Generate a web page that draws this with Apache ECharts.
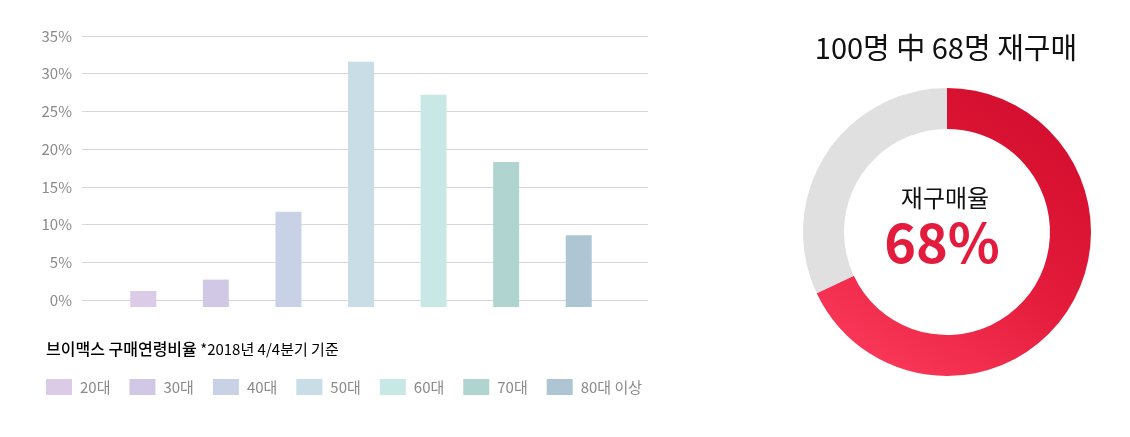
<!DOCTYPE html>
<html>
<head>
<meta charset="utf-8">
<script src="https://cdn.jsdelivr.net/npm/echarts@6/dist/echarts.min.js"></script>
<style>
  html, body { margin: 0; padding: 0; background: #fff; }
  #chart { width: 1130px; height: 437px; }
</style>
</head>
<body>
<div id="chart"></div>
<script>
// 연령대별 구매 비율 (%)
var ageGroups = ['20대', '30대', '40대', '50대', '60대', '70대', '80대 이상'];
var ageRatio = [1.2, 2.7, 11.7, 31.6, 27.2, 18.3, 8.6];
var ageColors = ['#dccbe6', '#d1c8e6', '#c8d1e6', '#c8dde6', '#c8e8e5', '#b0d5d0', '#aec6d3'];
// 재구매 (100명 중)
var rebuy = [68, 32];
var rebuyNames = ['재구매', '미구매'];

var FONT = '"Noto Sans CJK KR", "Noto Sans", sans-serif';
var chart = echarts.init(document.getElementById('chart'));

// 막대는 0% 선보다 7px 아래까지 내려온다
function renderBar(params, api) {
    var top = api.coord([api.value(0), api.value(1)]);
    var base = api.coord([api.value(0), 0]);
    var w = 26;
    return {
        type: 'rect',
        shape: { x: top[0] - w / 2, y: top[1], width: w, height: base[1] - top[1] + 7 },
        style: { fill: api.visual('color') }
    };
}

var barSeries = ageGroups.map(function (name, i) {
    return {
        type: 'custom',
        name: name,
        xAxisIndex: 1,
        yAxisIndex: 1,
        itemStyle: { color: ageColors[i] },
        renderItem: renderBar,
        data: [[i, ageRatio[i]]],
        silent: true
    };
});

var option = {
    animation: false,
    textStyle: { fontFamily: FONT },
    grid: [
        { left: 82, right: 482, top: 36, bottom: 137 },
        { left: 107, right: 515, top: 36, bottom: 137 }
    ],
    xAxis: [
        { type: 'value', gridIndex: 0, show: false, min: 0, max: 1 },
        { type: 'category', gridIndex: 1, show: false, data: ageGroups }
    ],
    yAxis: [
        {
            type: 'value', gridIndex: 0, min: 0, max: 35, interval: 5,
            axisLine: { show: false }, axisTick: { show: false },
            axisLabel: { formatter: '{value}%', color: '#8a8a8a', fontSize: 15, margin: 10, fontFamily: FONT },
            splitLine: { lineStyle: { color: '#d6d6d6', width: 1 } }
        },
        { type: 'value', gridIndex: 1, min: 0, max: 35, show: false }
    ],
    legend: {
        data: ageGroups,
        left: 46, top: 379,
        padding: 0,
        icon: 'rect',
        itemWidth: 26, itemHeight: 16, itemGap: 19,
        selectedMode: false,
        textStyle: { color: '#8a8a8a', fontSize: 15, fontFamily: FONT, padding: [0, 0, 0, 3] }
    },
    graphic: [
        {
            type: 'text', left: 46, top: 341,
            style: {
                text: '{a|브이맥스 구매연령비율} {b|*2018년 4/4분기 기준}',
                rich: {
                    a: { fontSize: 16, color: '#333', fontFamily: FONT, fontWeight: 500 },
                    b: { fontSize: 15, color: '#8a8a8a', fontFamily: FONT }
                }
            }
        },
        {
            type: 'text', x: 946, y: 48,
            style: { text: '100명 中 68명 재구매', fontSize: 29, fill: '#111', fontFamily: FONT,
                     align: 'center', verticalAlign: 'middle' }
        },
        {
            type: 'text', x: 945, y: 198,
            style: { text: '재구매율', fontSize: 24, fill: '#111', fontFamily: FONT,
                     align: 'center', verticalAlign: 'middle' }
        },
        {
            type: 'text', x: 942, y: 242,
            style: { text: rebuy[0] + '%', fontSize: 54, fontWeight: 'bold', fill: '#e31c3d', fontFamily: FONT,
                     align: 'center', verticalAlign: 'middle' }
        }
    ],
    series: barSeries.concat([
        {
            type: 'pie',
            center: [947, 232],
            radius: [103, 144],
            startAngle: 90,
            clockwise: true,
            silent: true,
            label: { show: false },
            labelLine: { show: false },
            emphasis: { disabled: true },
            data: [
                {
                    name: rebuyNames[0], value: rebuy[0],
                    itemStyle: {
                        color: new echarts.graphic.LinearGradient(0.85, 0, 0.15, 1, [
                            { offset: 0, color: '#d10c2c' },
                            { offset: 0.5, color: '#e41b3a' },
                            { offset: 1, color: '#fc3b5c' }
                        ])
                    }
                },
                { name: rebuyNames[1], value: rebuy[1], itemStyle: { color: '#e0e0e0' } }
            ]
        }
    ])
};

chart.setOption(option);
</script>
</body>
</html>
